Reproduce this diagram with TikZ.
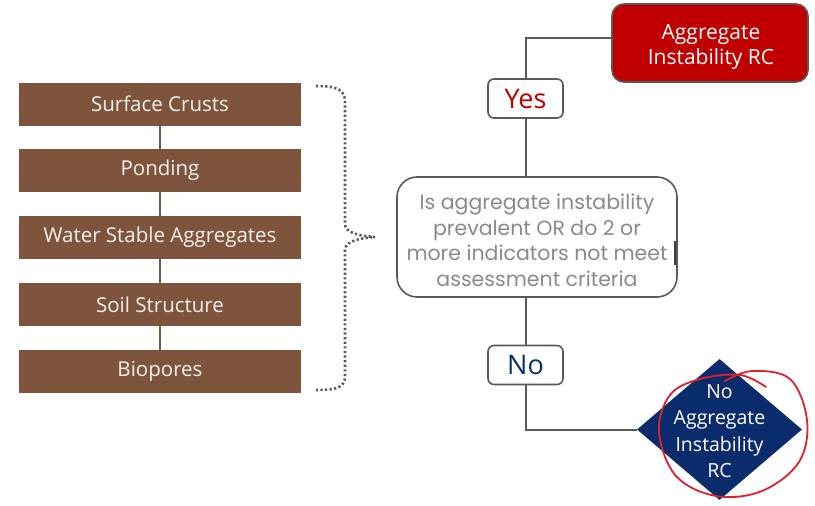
\documentclass[tikz,border=0pt]{standalone}
\usepackage{fontspec}
\setmainfont{Open Sans}
\newfontfamily\decfont{Poppins}
\usetikzlibrary{shapes.geometric}
\definecolor{soilbrown}{HTML}{7F543D}
\definecolor{rcred}{HTML}{C00000}
\definecolor{navy}{HTML}{0A2C6C}
\definecolor{edgegray}{HTML}{595959}
\definecolor{dectext}{HTML}{8A8A8A}
\definecolor{inkred}{HTML}{E0202A}
\begin{document}
\begin{tikzpicture}[x=1pt,y=-1pt,
  soilbox/.style={fill=soilbrown, draw=none, minimum width=282pt, minimum height=43pt, inner sep=0pt,
    text=white!92!soilbrown, font=\fontsize{20.5}{24}\selectfont},
  soilline/.style={draw=soilbrown, line width=2.5pt},
  flow/.style={draw=edgegray, line width=2pt},
  labbox/.style={draw=edgegray, line width=1.6pt, fill=white, rounded corners=6pt, minimum width=75pt, minimum height=39pt, inner sep=0pt,
    font=\fontsize{27}{30}\selectfont},
  decbox/.style={draw=edgegray, line width=1.6pt, fill=white, rounded corners=20pt, minimum width=280pt, minimum height=120pt, inner sep=0pt},
  dectxt/.style={align=center, text=dectext, inner sep=0pt, font=\decfont\fontsize{20.5}{25.5}\selectfont},
  rcbox/.style={draw=edgegray, line width=1.6pt, fill=rcred, rounded corners=12pt, minimum width=196pt, minimum height=78pt, inner sep=0pt},
  rctxt/.style={align=center, text=white, inner sep=0pt, font=\fontsize{21}{25}\selectfont},
  diabox/.style={diamond, fill=navy, draw=none, minimum width=165pt, minimum height=141pt, inner sep=0pt},
  diatext/.style={align=center, text=white, font=\fontsize{19.5}{26.5}\selectfont, inner sep=0pt},
  bracestyle/.style={draw=edgegray, line width=2.6pt, dash pattern=on 2.2pt off 2.4pt},
  inkstyle/.style={draw=inkred, line width=1.8pt, line cap=round, line join=round}
]
\useasboundingbox (0,0) rectangle (815,506);

% left column
\node[soilbox] (s1) at (160,104) {Surface Crusts};
\node[soilbox] (s2) at (160,170.5) {Ponding};
\node[soilbox] (s3) at (160,237.5) {Water Stable Aggregates};
\node[soilbox] (s4) at (160,304.5) {Soil Structure};
\node[soilbox] (s5) at (160,371.5) {Biopores};
\draw[soilline] (s1) -- (s2);
\draw[soilline] (s2) -- (s3);
\draw[soilline] (s3) -- (s4);
\draw[soilline] (s4) -- (s5);

% brace
\coordinate (bt) at (316,86);
\coordinate (bm) at (375,237);
\coordinate (bb) at (316,390);
\draw[bracestyle] (bt) .. controls (338,86) and (345,90) .. (345,102) -- (345,224)
  .. controls (345,233) and (360,236) .. (bm)
  .. controls (360,238) and (345,241) .. (345,250) -- (345,376)
  .. controls (345,387) and (338,390) .. (bb);

% right flow
\node[decbox] (dec) at (537,237) {};
\node[dectxt] (dect) at (537,240.5) {Is aggregate instability\\prevalent OR do 2 or\\more indicators not meet\\assessment criteria};
\draw[draw=edgegray!70!black, line width=2pt] (675,241) -- (675,265);
\node[labbox, text=rcred] (yes) at (525.5,98.5) {Yes};
\node[labbox, text=navy] (no) at (525.5,365) {No};
\node[rcbox] (rc) at (710,43) {};
\node[rctxt] (rct) at (711,46.5) {Aggregate\\Instability RC};
\node[diabox] (dia) at (719.5,429.5) {};
\node[diatext] (diat) at (719.5,431) {No\\Aggregate\\Instability\\RC};
\coordinate (rcj) at (612,38);

\draw[flow] (rcj) -| (yes.north);
\draw[flow] (yes.south) -- (yes.south |- dec.north);
\draw[flow] (no.north |- dec.south) -- (no.north);
\draw[flow] (no.south) |- (dia.west);

% hand-drawn red circle
\draw[inkstyle] plot[smooth, tension=0.6] coordinates {(725,381) (752,371) (790,379) (807,420) (799,462) (762,491) (716,496) (676,476) (659,432) (670,395) (700,379) (740,375) (766,387)};
\end{tikzpicture}
\end{document}
